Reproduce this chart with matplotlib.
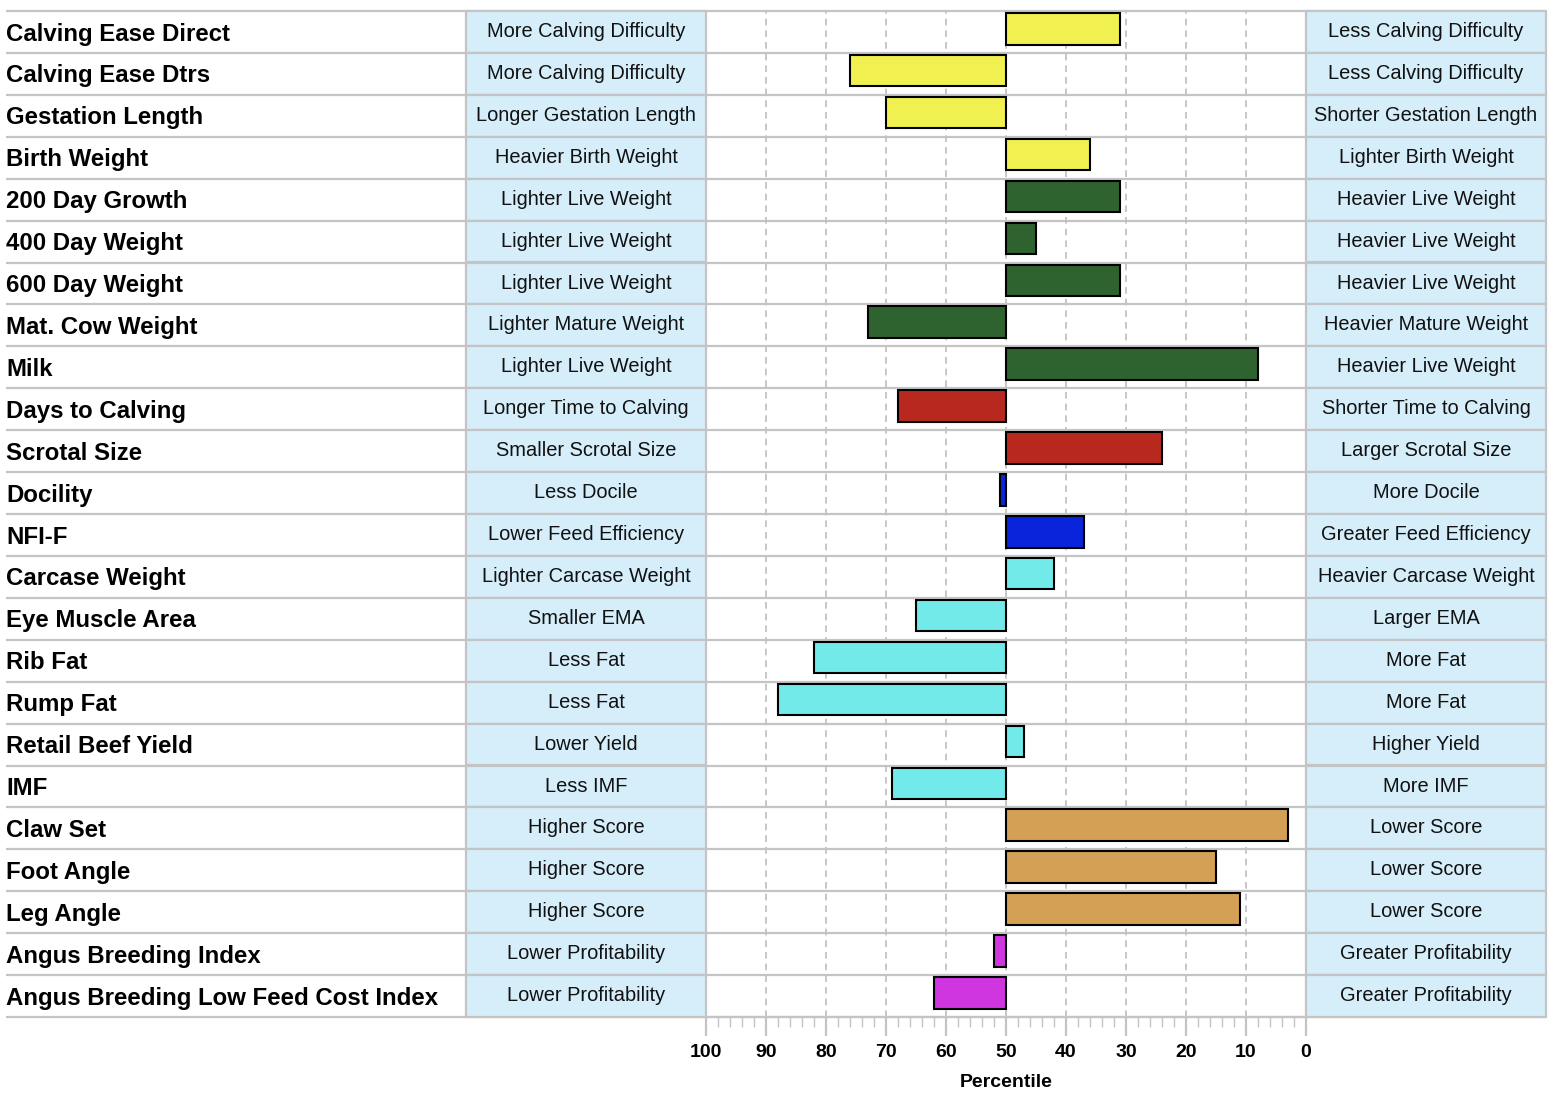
import matplotlib
matplotlib.use("Agg")
import matplotlib.pyplot as plt
from matplotlib.patches import Rectangle
from matplotlib.ticker import MultipleLocator
import matplotlib.transforms as mtransforms

plt.rcParams['font.family'] = ['Liberation Sans', 'DejaVu Sans']

traits = ["Calving Ease Direct", "Calving Ease Dtrs", "Gestation Length", "Birth Weight",
          "200 Day Growth", "400 Day Weight", "600 Day Weight", "Mat. Cow Weight", "Milk",
          "Days to Calving", "Scrotal Size", "Docility", "NFI-F", "Carcase Weight",
          "Eye Muscle Area", "Rib Fat", "Rump Fat", "Retail Beef Yield", "IMF",
          "Claw Set", "Foot Angle", "Leg Angle", "Angus Breeding Index",
          "Angus Breeding Low Feed Cost Index"]
percentiles = [31, 76, 70, 36, 31, 45, 31, 73, 8, 68, 24, 51, 37, 42, 65, 82, 88, 47, 69,
               3, 15, 11, 52, 62]
low_labels = ["More Calving Difficulty", "More Calving Difficulty", "Longer Gestation Length",
              "Heavier Birth Weight", "Lighter Live Weight", "Lighter Live Weight",
              "Lighter Live Weight", "Lighter Mature Weight", "Lighter Live Weight",
              "Longer Time to Calving", "Smaller Scrotal Size", "Less Docile",
              "Lower Feed Efficiency", "Lighter Carcase Weight", "Smaller EMA", "Less Fat",
              "Less Fat", "Lower Yield", "Less IMF", "Higher Score", "Higher Score",
              "Higher Score", "Lower Profitability", "Lower Profitability"]
high_labels = ["Less Calving Difficulty", "Less Calving Difficulty", "Shorter Gestation Length",
               "Lighter Birth Weight", "Heavier Live Weight", "Heavier Live Weight",
               "Heavier Live Weight", "Heavier Mature Weight", "Heavier Live Weight",
               "Shorter Time to Calving", "Larger Scrotal Size", "More Docile",
               "Greater Feed Efficiency", "Heavier Carcase Weight", "Larger EMA", "More Fat",
               "More Fat", "Higher Yield", "More IMF", "Lower Score", "Lower Score",
               "Lower Score", "Greater Profitability", "Greater Profitability"]
groups = ["calving", "calving", "calving", "calving",
          "growth", "growth", "growth", "growth", "growth",
          "fertility", "fertility",
          "temperament", "feed",
          "carcase", "carcase", "carcase", "carcase", "carcase", "carcase",
          "structure", "structure", "structure",
          "index", "index"]
group_colors = {"calving": "#F0F050", "growth": "#2E622E", "fertility": "#B8281E",
                "temperament": "#0A24DC", "feed": "#0A24DC", "carcase": "#72EAEA",
                "structure": "#D4A055", "index": "#D036E0"}
x_ticks = list(range(0, 101, 10))

W, H = 1560, 1098
fig = plt.figure(figsize=(W / 100, H / 100), dpi=100)
left_px, right_px, top_px, bot_px = 706, 1306, 11, 1017
ax = fig.add_axes([left_px / W, (H - bot_px) / H, (right_px - left_px) / W, (bot_px - top_px) / H])
n = len(traits)
ax.set_xlim(100, 0)
ax.set_ylim(n, 0)

def ax_x(px):
    return (px - left_px) / (right_px - left_px)

trans = mtransforms.blended_transform_factory(ax.transAxes, ax.transData)

box_color = "#D5EEFA"
line_color = "#C4C4C4"

for i in range(n):
    for x0, x1 in [(ax_x(466), 0.0), (1.0, ax_x(1546))]:
        ax.add_patch(Rectangle((x0, i), x1 - x0, 1, transform=trans, facecolor=box_color,
                               edgecolor=line_color, linewidth=1.6, clip_on=False, zorder=2))
    ax.text(ax_x(6), i + 0.55, traits[i], transform=trans, ha="left", va="center",
            fontsize=17.3, fontweight="bold", color="black", clip_on=False)
    ax.text((ax_x(466) + 0) / 2, i + 0.49, low_labels[i], transform=trans, ha="center",
            va="center", fontsize=14.4, color="#111111", zorder=4)
    ax.text((1 + ax_x(1546)) / 2, i + 0.49, high_labels[i], transform=trans, ha="center",
            va="center", fontsize=14.4, color="#111111", zorder=4)

for i in range(n + 1):
    ax.plot([ax_x(6), ax_x(1546)], [i, i], transform=trans, color=line_color, lw=1.6,
            clip_on=False, zorder=1.5, solid_capstyle="butt")

for xv in range(10, 100, 10):
    ax.axvline(xv, color="#BDBDBD", lw=1.2, linestyle=(0, (4, 3)), zorder=1)

ys = [i + 0.424 for i in range(n)]
ax.barh(ys, [p - 50 for p in percentiles], left=50, height=0.752,
        color=[group_colors[g] for g in groups], edgecolor="black", linewidth=1.5, zorder=3)

for s in ["top", "left", "right"]:
    ax.spines[s].set_visible(False)
ax.spines["bottom"].set_color(line_color)
ax.spines["bottom"].set_linewidth(1.6)
ax.set_yticks([])
ax.set_xticks(x_ticks)
ax.xaxis.set_minor_locator(MultipleLocator(2))
ax.tick_params(axis="x", which="major", length=14, width=1.6, color=line_color,
               labelsize=14, pad=5.5)
ax.tick_params(axis="x", which="minor", length=7, width=1.0, color=line_color)
for lab in ax.get_xticklabels():
    lab.set_fontweight("bold")
ax.set_xlabel("Percentile", fontsize=14, fontweight="bold", labelpad=9.5)

fig.savefig("out.png", dpi=100)
